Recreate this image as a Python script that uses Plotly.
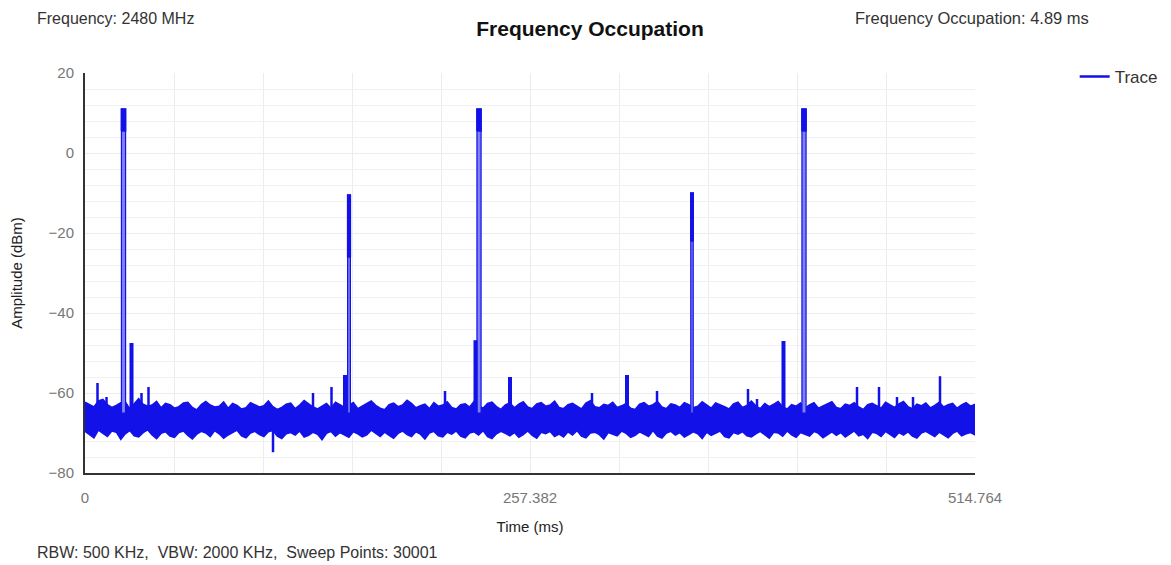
import numpy as np
import plotly.graph_objects as go

# ---------------- data ----------------
T_MAX = 514.764

# noise floor: upper and lower edge of the dense trace band (dBm)
noise_top = [
    -62.3, -62.8, -63.5, -62.0, -61.6, -62.9, -63.6, -63.1, -62.4, -62.2, -63.9, -62.7, -61.4, -62.8, -63.3, -63.0, -62.1, -63.7, -62.6, -62.9,
    -63.8, -63.4, -62.5, -62.3, -63.6, -64.2, -62.9, -62.1, -63.0, -63.5, -63.3, -62.2, -63.8, -62.6, -63.1, -64.0, -63.7, -62.4, -62.9, -63.5,
    -63.2, -62.0, -63.4, -64.1, -63.6, -62.8, -62.5, -63.9, -63.0, -61.9, -62.7, -63.5, -64.0, -63.2, -62.6, -63.8, -62.3, -62.9, -63.6, -63.1,
    -62.4, -63.9, -63.3, -62.7, -62.0, -63.1, -63.8, -64.2, -62.9, -62.5, -63.4, -63.0, -61.8, -62.6, -63.7, -63.2, -62.8, -63.9, -62.4, -63.3,
    -63.0, -62.2, -63.6, -64.0, -62.9, -62.7, -63.5, -62.1, -63.2, -63.8, -62.6, -62.3, -63.4, -64.1, -63.0, -62.5, -63.7, -62.8, -62.2, -63.5,
    -63.9, -62.7, -62.4, -63.3, -63.0, -62.0, -63.6, -63.9, -62.9, -62.6, -63.2, -64.0, -62.5, -61.9, -63.4, -63.7, -62.8, -63.1, -62.3, -63.6,
    -63.2, -62.6, -63.8, -64.1, -62.8, -62.4, -63.3, -62.9, -62.1, -63.5, -63.9, -62.7, -63.0, -63.6, -62.4, -62.9, -63.7, -63.3, -62.2, -63.0,
    -63.8, -62.5, -62.9, -63.4, -64.0, -62.7, -62.3, -63.6, -63.1, -62.0, -63.2, -63.9, -62.6, -63.4, -62.8, -62.1, -63.5, -64.0, -62.9, -63.3,
    -62.5, -63.7, -63.0, -62.4, -63.8, -63.3, -62.7, -62.2, -63.6, -63.9, -62.8, -63.1, -62.4, -63.5, -64.1, -62.9, -62.6, -63.2, -63.8, -62.3,
    -63.0, -63.6, -62.7, -62.1, -63.4, -63.9, -62.8, -63.2, -62.5, -63.7, -63.1, -62.3, -63.5, -62.9, -62.6, -63.8, -63.0, -62.4, -63.3, -62.8,
]
noise_bot = [
    -69.6, -70.4, -71.2, -69.3, -70.0, -70.9, -69.5, -69.8, -71.6, -70.2, -69.4, -70.7, -71.0, -69.9, -69.2, -70.5, -71.4, -70.1, -69.7, -70.8,
    -71.1, -69.9, -69.5, -70.6, -71.5, -70.3, -69.6, -70.0, -70.9, -69.4, -70.2, -71.3, -70.5, -69.8, -69.3, -70.7, -71.2, -70.0, -69.6, -70.4,
    -70.9, -69.7, -69.4, -70.8, -71.4, -70.2, -69.9, -70.5, -69.5, -71.0, -70.6, -69.8, -70.3, -71.7, -70.1, -69.6, -70.8, -69.9, -70.4, -71.1,
    -69.7, -70.2, -71.0, -70.5, -69.3, -70.0, -70.9, -69.8, -70.6, -71.3, -70.1, -69.5, -70.4, -70.9, -69.7, -70.3, -71.5, -70.0, -69.6, -70.7,
    -71.0, -69.8, -70.3, -69.5, -70.8, -71.2, -70.0, -69.7, -70.5, -69.4, -70.9, -71.4, -70.2, -69.6, -70.1, -70.7, -69.9, -71.1, -70.4, -69.5,
    -70.6, -71.3, -69.8, -70.2, -69.6, -70.9, -70.3, -71.0, -69.7, -70.5, -69.4, -70.8, -71.2, -70.0, -69.8, -70.4, -71.5, -69.9, -70.2, -70.7,
    -69.5, -70.1, -71.1, -70.6, -69.7, -70.3, -70.9, -69.4, -70.8, -71.3, -70.0, -69.6, -70.5, -69.9, -71.0, -70.4, -69.7, -70.2, -71.4, -69.8,
    -70.6, -70.1, -69.5, -70.9, -71.2, -69.9, -70.3, -69.7, -70.7, -71.0, -70.2, -69.6, -70.4, -71.3, -69.8, -70.0, -70.8, -69.5, -70.5, -71.1,
    -69.9, -70.3, -70.8, -69.6, -70.1, -71.2, -70.4, -69.7, -70.6, -69.9, -71.0, -70.2, -69.5, -70.7, -70.3, -71.4, -69.8, -70.1, -70.9, -69.6,
    -70.4, -71.1, -69.9, -70.5, -69.7, -70.8, -71.3, -70.0, -69.6, -70.3, -70.9, -69.8, -70.6, -71.2, -70.1, -69.5, -70.7, -70.2, -69.9, -70.5,
]

# strong bursts (ms, peak dBm, lower edge of the dark cap dBm, width ms)
burst_t = [22.27, 152.70, 227.89, 351.08, 415.86]
burst_peak = [11.0, -10.5, 11.0, -10.0, 11.0]
burst_cap = [5.5, -26.0, 5.5, -22.0, 5.5]
burst_w = [2.4, 1.6, 2.4, 1.4, 2.4]

# narrow spurs (ms, peak dBm)
spur_t = [7.23, 12.44, 32.68, 36.73, 108.74, 131.87, 142.57, 208.22,
          293.24, 330.84, 383.47, 388.68, 446.52, 459.24, 469.65, 478.91, 494.52]
spur_peak = [-57.5, -61.0, -60.0, -58.5, -74.8, -60.0, -58.5, -59.5,
             -60.0, -59.5, -59.0, -61.5, -58.5, -58.5, -61.0, -61.0, -55.8]

# wider spurs (ms, peak dBm)
wide_t = [26.90, 150.38, 225.86, 245.82, 313.49, 404.00]
wide_peak = [-47.5, -55.5, -46.8, -56.0, -55.5, -47.0]

# ---------------- styling ----------------
BLUE = "rgb(18,18,232)"
LIGHT = "rgb(128,128,242)"
FONT = "Liberation Sans, Arial, sans-serif"
BASE = -65.0
OFF = 8  # page offset of the figure inside the browser window

t_noise = np.linspace(0, T_MAX, len(noise_top))

fig = go.Figure()

# noise band
fig.add_trace(go.Scatter(
    x=np.concatenate([t_noise, t_noise[::-1]]),
    y=np.concatenate([np.array(noise_top), np.array(noise_bot)[::-1]]),
    mode="lines", fill="toself", fillcolor=BLUE,
    line=dict(color=BLUE, width=1.5), showlegend=False, hoverinfo="skip"))

# strong bursts: light body with blue outline
bx, by = [], []
for t, p, w in zip(burst_t, burst_peak, burst_w):
    bx += [t - w / 2, t - w / 2, t + w / 2, t + w / 2, t - w / 2, None]
    by += [BASE, p, p, BASE, BASE, None]
fig.add_trace(go.Scatter(x=bx, y=by, mode="lines", fill="toself", fillcolor=LIGHT,
                         line=dict(color=BLUE, width=1.2), showlegend=False, hoverinfo="skip"))

# dark caps on top of bursts
cx, cy = [], []
for t, p, c, w in zip(burst_t, burst_peak, burst_cap, burst_w):
    cx += [t - w / 2, t - w / 2, t + w / 2, t + w / 2, t - w / 2, None]
    cy += [c, p, p, c, c, None]
fig.add_trace(go.Scatter(x=cx, y=cy, mode="lines", fill="toself", fillcolor=BLUE,
                         line=dict(color=BLUE, width=1.5), showlegend=False, hoverinfo="skip"))

# wide spurs
wx, wy = [], []
for t, p in zip(wide_t, wide_peak):
    wx += [t, t, None]
    wy += [BASE, p, None]
fig.add_trace(go.Scatter(x=wx, y=wy, mode="lines", line=dict(color=BLUE, width=4),
                         showlegend=False, hoverinfo="skip"))

# narrow spurs (legend entry)
sx, sy = [], []
for t, p in zip(spur_t, spur_peak):
    sx += [t, t, None]
    sy += [BASE, p, None]
fig.add_trace(go.Scatter(x=sx, y=sy, mode="lines", line=dict(color=BLUE, width=2.5),
                         name="Trace", showlegend=True, hoverinfo="skip"))

fig.update_layout(
    width=1171 - OFF, height=565 - OFF,
    margin=dict(l=85 - OFF, r=196, t=73 - OFF, b=92, autoexpand=False),
    paper_bgcolor="white", plot_bgcolor="white",
    font=dict(family=FONT, size=15, color="#333333"),
    title=dict(text="<b>Frequency Occupation</b>", x=(590 - OFF) / (1171 - OFF), xref="container",
               xanchor="center", y=1 - (29 - OFF) / (565 - OFF), yref="container", yanchor="middle",
               font=dict(family=FONT, size=21, color="#111111")),
    legend=dict(x=1.112, y=1.035, xanchor="left", yanchor="top",
                font=dict(family=FONT, size=17, color="#333333"),
                bgcolor="rgba(0,0,0,0)"),
    showlegend=True,
)

fig.update_xaxes(
    range=[0, T_MAX], tickvals=[0, T_MAX / 2, T_MAX], ticktext=["0", "257.382", "514.764"],
    showgrid=True, gridcolor="#ececec", gridwidth=1,
    minor=dict(tick0=0, dtick=T_MAX / 10, showgrid=True, gridcolor="#ececec"),
    showline=True, linecolor="#333333", linewidth=2, zeroline=False,
    ticks="", ticklabelstandoff=10,
    tickfont=dict(family=FONT, size=15, color="#777777"),
    title=dict(text="Time (ms)", standoff=16, font=dict(family=FONT, size=15, color="#222222")),
)
fig.update_yaxes(
    range=[-80, 20], tickvals=[-80, -60, -40, -20, 0, 20],
    showgrid=True, gridcolor="#ececec", gridwidth=1,
    minor=dict(tick0=-80, dtick=4, showgrid=True, gridcolor="#f1f1f1"),
    showline=True, linecolor="#333333", linewidth=2, zeroline=False,
    ticks="", ticklabelstandoff=6,
    tickfont=dict(family=FONT, size=15, color="#777777"),
    title=dict(text="Amplitude (dBm)", standoff=26, font=dict(family=FONT, size=15, color="#222222")),
)

fig.add_annotation(text="Frequency: 2480 MHz", xref="paper", yref="paper",
                   x=(35 - 85) / 890, y=1 + (73 - 18) / 400, xanchor="left", yanchor="middle",
                   showarrow=False, font=dict(family=FONT, size=16, color="#333333"))
fig.add_annotation(text="Frequency Occupation: 4.89 ms", xref="paper", yref="paper",
                   x=(853 - 85) / 890, y=1 + (73 - 18) / 400, xanchor="left", yanchor="middle",
                   showarrow=False, font=dict(family=FONT, size=16.5, color="#333333"))
fig.add_annotation(text="RBW: 500 KHz,  VBW: 2000 KHz,  Sweep Points: 30001", xref="paper", yref="paper",
                   x=(35 - 85) / 890, y=1 - (552 - 73) / 400, xanchor="left", yanchor="middle",
                   showarrow=False, font=dict(family=FONT, size=16, color="#333333"))

fig.write_html("out.html")
